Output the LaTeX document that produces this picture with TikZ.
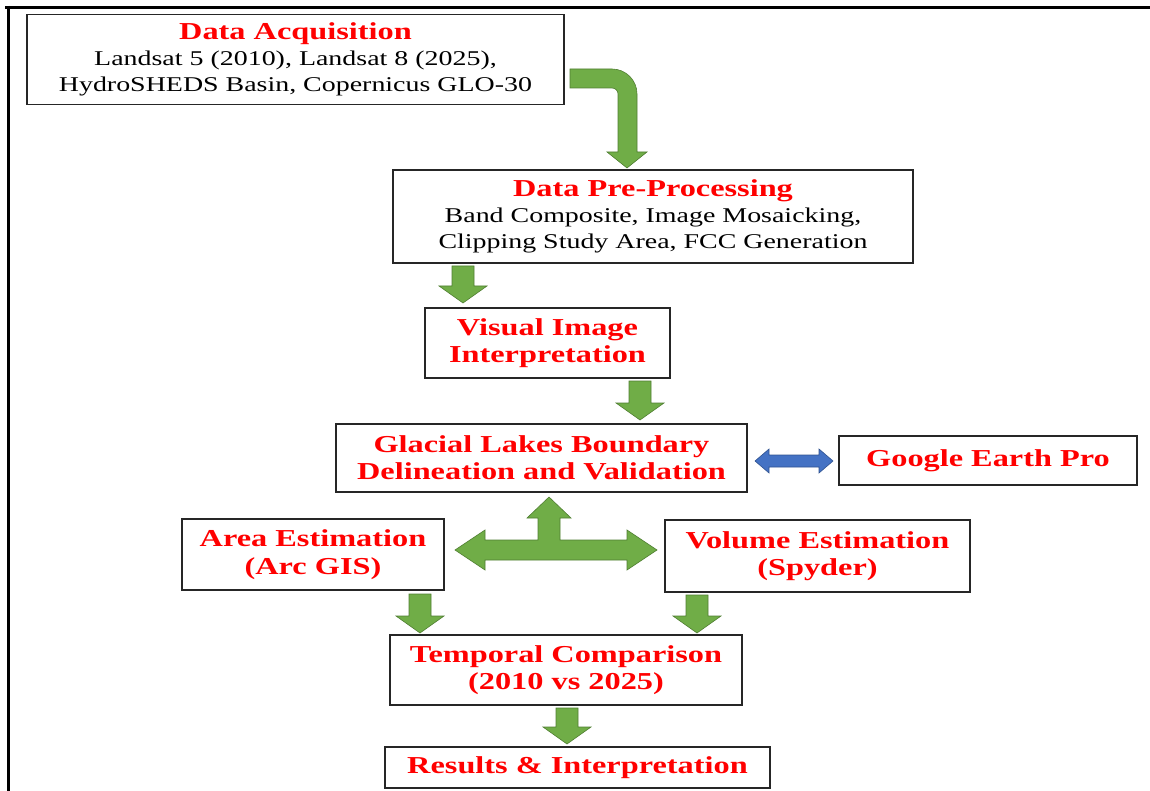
\documentclass[tikz,border=0pt]{standalone}
\usepackage{fontspec}
\setmainfont{Liberation Serif}[FakeStretch=1.33]
\definecolor{tred}{RGB}{255,0,0}
\definecolor{agreen}{RGB}{112,173,71}
\definecolor{agreenD}{RGB}{80,126,50}
\definecolor{ablue}{RGB}{68,114,196}
\definecolor{ablueD}{RGB}{47,82,143}
\tikzset{
  box/.style={draw=black!85, line width=1.2pt, fill=white, inner sep=0pt, align=center},
  bodyf/.style={font=\fontsize{21}{26}\selectfont},
  titlef/.style={font=\fontsize{24.3}{27.5}\selectfont\bfseries, text=tred},
  garrow/.style={fill=agreen, draw=agreenD, line width=0.6pt, line join=miter},
  barrow/.style={fill=ablue, draw=ablueD, line width=0.6pt, line join=miter},
  frame/.style={line width=3pt, draw=black}
}
\newcommand\ttl[1]{{\fontsize{24.3}{27.5}\selectfont\bfseries\color{tred}#1}}
\newcommand\dnarrow[3]{\draw[garrow] (#1-11,#2) -- (#1+11,#2) -- (#1+11,#3-17) -- (#1+24,#3-17) -- (#1,#3) -- (#1-24,#3-17) -- (#1-11,#3-17) -- cycle;}
\begin{document}
\begin{tikzpicture}[x=1pt,y=-1pt]
\useasboundingbox (0,0) rectangle (1150,791);
% outer frame
\draw[frame] (5,7.5) -- (1150,7.5);
\draw[frame] (8,6) -- (8,791);
% boxes
\node[box, bodyf, minimum width=537pt, minimum height=90pt] (acq) at (295.5,59.5)
  {\ttl{Data Acquisition}\\ Landsat 5 (2010), Landsat 8 (2025),\\ HydroSHEDS Basin, Copernicus GLO-30};
\node[box, bodyf, minimum width=520pt, minimum height=93pt] (pre) at (653,216.5)
  {\ttl{Data Pre-Processing}\\ Band Composite, Image Mosaicking,\\ Clipping Study Area, FCC Generation};
\node[box, titlef, minimum width=245pt, minimum height=70pt] (vis) at (547.5,343)
  {Visual Image\\ Interpretation};
\node[box, titlef, minimum width=411pt, minimum height=68pt] (glac) at (541.5,458)
  {Glacial Lakes Boundary\\ Delineation and Validation};
\node[box, titlef, minimum width=298pt, minimum height=49pt] (gep) at (988,460.5)
  {Google Earth Pro};
\node[box, titlef, minimum width=262pt, minimum height=71pt] (area) at (313,554.5)
  {Area Estimation\\ (Arc GIS)};
\node[box, titlef, minimum width=305pt, minimum height=72pt] (vol) at (817.5,556)
  {Volume Estimation\\ (Spyder)};
\node[box, titlef, minimum width=352pt, minimum height=70pt] (temp) at (566,670)
  {Temporal Comparison\\ (2010 vs 2025)};
\node[box, titlef, minimum width=385pt, minimum height=41pt] (res) at (577.5,767.5)
  {Results \& Interpretation};
% bent arrow acq -> pre
\draw[garrow] (570,69) -- (612,69) arc[start angle=-90, end angle=0, radius=25] -- (637,152) -- (647,152) -- (627,168) -- (607,152) -- (618,152) -- (618,94) arc[start angle=0, end angle=-90, radius=6] -- (570,88) -- cycle;
% straight down arrows
\dnarrow{463}{266}{303}
\dnarrow{640}{381}{420}
\dnarrow{420}{594}{633}
\dnarrow{697}{595}{633}
\dnarrow{567}{708}{744}
% three-way arrow
\draw[garrow] (549,497) -- (571,518) -- (560,518) -- (560,540) -- (627,540) -- (627,530) -- (657,550) -- (627,570) -- (627,560) -- (485,560) -- (485,570) -- (455,550) -- (485,530) -- (485,540) -- (538,540) -- (538,518) -- (527,518) -- cycle;
% blue double arrow
\draw[barrow] (755,461) -- (769,449) -- (769,455) -- (819,455) -- (819,449) -- (833,461) -- (819,473) -- (819,467) -- (769,467) -- (769,473) -- cycle;
\end{tikzpicture}
\end{document}
